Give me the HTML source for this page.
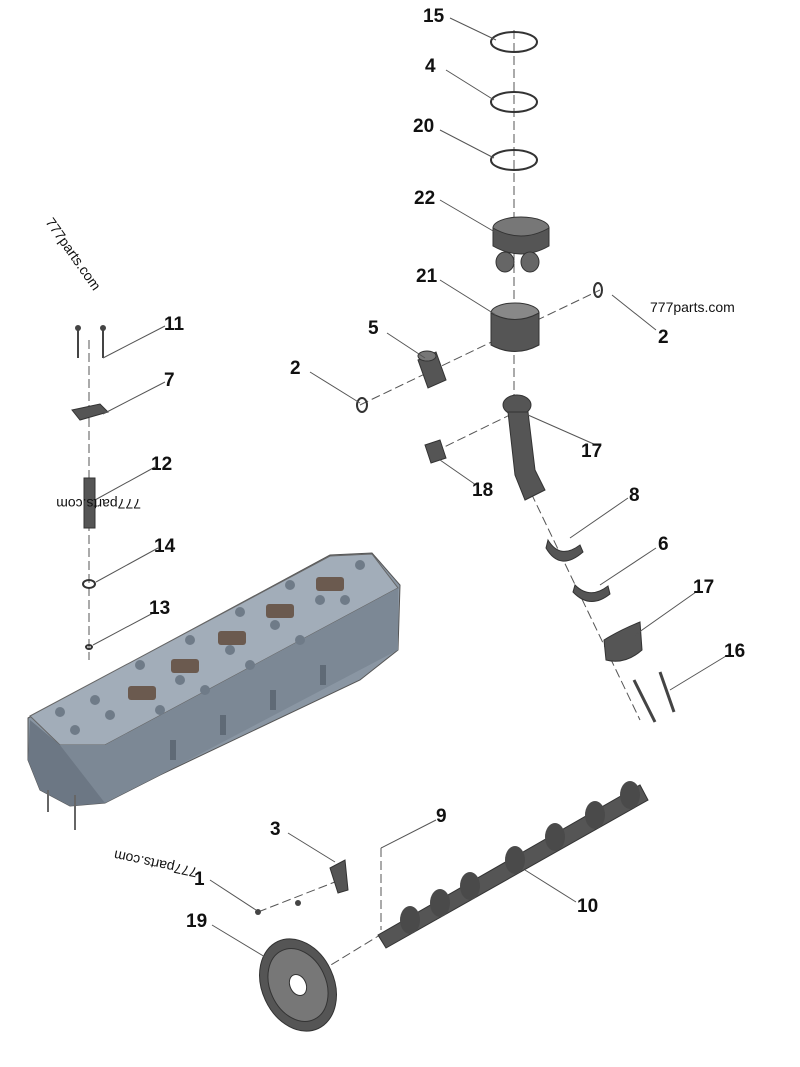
<!DOCTYPE html>
<html><head><meta charset="utf-8"><style>
html,body{margin:0;padding:0;background:#fff;}
svg{display:block}
.l{font-family:"Liberation Sans",sans-serif;font-weight:bold;font-size:19px;fill:#111}
.w{font-family:"Liberation Sans",sans-serif;font-size:14px;fill:#111}
.ld{stroke:#555;stroke-width:1;fill:none}
.da{stroke:#555;stroke-width:1;fill:none;stroke-dasharray:9 4}
.ring{fill:none;stroke:#333;stroke-width:2}
.p{fill:#555;stroke:#333;stroke-width:1}
</style></head><body>
<svg width="800" height="1067" viewBox="0 0 800 1067">
<path class="da" d="M514 30 V450"/>
<path class="da" d="M520 470 L640 720"/>
<path class="da" d="M360 405 L600 290"/>
<path class="da" d="M434 452 L520 410"/>
<path class="da" d="M89 340 V660"/>
<path class="da" d="M381 848 V930"/>
<path class="da" d="M258 912 L340 880"/>
<path class="da" d="M298 985 L380 935"/>

<ellipse class="ring" cx="514" cy="42" rx="23" ry="10"/>
<ellipse class="ring" cx="514" cy="102" rx="23" ry="10"/>
<ellipse class="ring" cx="514" cy="160" rx="23" ry="10"/>
<ellipse cx="521" cy="228" rx="28" ry="11" fill="#777" stroke="#333"/>
<path class="p" d="M493 228 V246 Q521 262 549 246 V228 Q521 244 493 228Z"/>
<ellipse cx="505" cy="262" rx="9" ry="10" fill="#666" stroke="#333"/>
<ellipse cx="530" cy="262" rx="9" ry="10" fill="#666" stroke="#333"/>
<ellipse cx="515" cy="313" rx="24" ry="10" fill="#888" stroke="#333"/>
<path class="p" d="M491 313 V345 Q515 358 539 345 V313 Q515 326 491 313Z"/>
<ellipse cx="598" cy="290" rx="4" ry="7" class="ring" stroke-width="1.3"/>
<path class="p" d="M418 360 L436 352 L446 380 L428 388Z"/>
<ellipse cx="427" cy="356" rx="9" ry="5" fill="#777" stroke="#333"/>
<ellipse cx="362" cy="405" rx="5" ry="7" class="ring" stroke-width="1.3"/>
<ellipse cx="517" cy="405" rx="14" ry="10" fill="#555" stroke="#333"/>
<path class="p" d="M508 412 L528 412 L535 470 L545 490 L525 500 L515 475Z"/>
<path class="p" d="M425 445 L440 440 L446 458 L431 463Z"/>
<path class="p" d="M548 540 Q560 560 580 545 L583 552 Q560 572 546 548Z"/>
<path class="p" d="M575 585 Q590 600 608 586 L610 594 Q590 610 573 592Z"/>
<path class="p" d="M604 640 Q620 630 640 622 L642 650 Q625 665 606 660Z"/>
<path d="M634 680 L655 722" stroke="#444" stroke-width="3"/>
<path d="M660 672 L674 712" stroke="#444" stroke-width="3"/>
<path d="M78 330 V358 M103 330 V358" stroke="#444" stroke-width="2"/>
<circle cx="78" cy="328" r="3" fill="#444"/><circle cx="103" cy="328" r="3" fill="#444"/>
<path class="p" d="M72 410 L100 404 L108 412 L80 420Z"/>
<rect x="84" y="478" width="11" height="50" fill="#555" stroke="#333"/>
<ellipse class="ring" cx="89" cy="584" rx="6" ry="4" stroke-width="1.3"/>
<ellipse class="ring" cx="89" cy="647" rx="3" ry="2" stroke-width="1.2"/>
<!-- cylinder head -->
<path d="M28 718 L330 555 L372 553 L400 585 L398 650 L360 680 L160 775 L105 803 L70 806 L40 790 L28 760Z" fill="#8a96a3" stroke="#555"/>
<path d="M30 716 L330 556 L372 554 L398 588 L105 745 L60 745Z" fill="#a2adb9" stroke="#666"/>
<path d="M60 745 L105 745 L398 588 L398 650 L160 775 L105 803 Z" fill="#7c8895"/>
<path d="M30 720 L60 745 L105 803 L70 806 L40 790 L28 760Z" fill="#6c7784"/>
<g fill="#6f7b88">
<circle cx="60" cy="712" r="5"/><circle cx="95" cy="700" r="5"/><circle cx="110" cy="715" r="5"/><circle cx="140" cy="665" r="5"/><circle cx="160" cy="710" r="5"/><circle cx="190" cy="640" r="5"/><circle cx="205" cy="690" r="5"/><circle cx="240" cy="612" r="5"/><circle cx="250" cy="665" r="5"/><circle cx="290" cy="585" r="5"/><circle cx="300" cy="640" r="5"/><circle cx="345" cy="600" r="5"/><circle cx="360" cy="565" r="5"/><circle cx="75" cy="730" r="5"/><circle cx="180" cy="680" r="5"/><circle cx="230" cy="650" r="5"/><circle cx="275" cy="625" r="5"/><circle cx="320" cy="600" r="5"/>
</g>
<g fill="#5f6a76"><rect x="170" y="740" width="6" height="20"/><rect x="220" y="715" width="6" height="20"/><rect x="270" y="690" width="6" height="20"/><rect x="320" y="665" width="6" height="20"/></g>
<g fill="#6b5a4f"><rect x="128" y="686" width="28" height="14" rx="3"/><rect x="171" y="659" width="28" height="14" rx="3"/><rect x="218" y="631" width="28" height="14" rx="3"/><rect x="266" y="604" width="28" height="14" rx="3"/><rect x="316" y="577" width="28" height="14" rx="3"/></g>
<path d="M48 790 V812 M75 795 V830" stroke="#666" stroke-width="2"/>
<!-- camshaft -->
<path d="M378 935 L640 785 L648 800 L386 948Z" fill="#555" stroke="#333"/>
<g fill="#4a4a4a"><ellipse cx="410" cy="920" rx="10" ry="14"/><ellipse cx="440" cy="903" rx="10" ry="14"/><ellipse cx="470" cy="886" rx="10" ry="14"/><ellipse cx="515" cy="860" rx="10" ry="14"/><ellipse cx="555" cy="837" rx="10" ry="14"/><ellipse cx="595" cy="815" rx="10" ry="14"/><ellipse cx="630" cy="795" rx="10" ry="14"/></g>
<path class="p" d="M330 868 L345 860 L348 890 L338 893Z"/>
<circle cx="258" cy="912" r="3" fill="#444"/><circle cx="298" cy="903" r="3" fill="#444"/>
<ellipse cx="298" cy="985" rx="36" ry="48" fill="#555" stroke="#333" transform="rotate(-25 298 985)"/>
<ellipse cx="298" cy="985" rx="28" ry="38" fill="#777" stroke="#333" transform="rotate(-25 298 985)"/>
<ellipse cx="298" cy="985" rx="8" ry="11" fill="#fff" stroke="#333" transform="rotate(-25 298 985)"/>

<path class="ld" d="M450 18 L496 40 M446 70 L494 100 M440 130 L494 158 M440 200 L500 235 M440 280 L496 315 M612 295 L656 330 M387 333 L425 358 M310 372 L360 403 M596 445 L528 415 M476 485 L440 460 M628 498 L570 538 M656 548 L600 585 M696 592 L635 635 M726 656 L670 690 M165 326 L103 358 M165 382 L103 414 M155 467 L95 500 M158 548 L96 582 M155 612 L93 645 M436 820 L381 848 M288 833 L335 862 M210 880 L256 910 M212 925 L270 960 M576 902 L525 870"/>

<g class="l">
<text x="423" y="22">15</text><text x="425" y="72">4</text><text x="413" y="132">20</text>
<text x="414" y="204">22</text><text x="416" y="282">21</text><text x="658" y="343">2</text>
<text x="368" y="334">5</text><text x="290" y="374">2</text><text x="581" y="457">17</text>
<text x="472" y="496">18</text><text x="629" y="501">8</text><text x="658" y="550">6</text>
<text x="693" y="593">17</text><text x="724" y="657">16</text>
<text x="164" y="330">11</text><text x="164" y="386">7</text><text x="151" y="470">12</text>
<text x="154" y="552">14</text><text x="149" y="614">13</text>
<text x="436" y="822">9</text><text x="270" y="835">3</text><text x="194" y="885">1</text>
<text x="186" y="927">19</text><text x="577" y="912">10</text>
</g>
<text class="w" x="650" y="312">777parts.com</text>
<text class="w" x="0" y="0" font-size="12" transform="translate(45 222) rotate(55)">777parts.com</text>
<text class="w" x="0" y="0" transform="translate(141 499) rotate(180)">777parts.com</text>
<text class="w" x="0" y="0" transform="translate(198 868) rotate(192)">777parts.com</text>
</svg>
</body></html>
